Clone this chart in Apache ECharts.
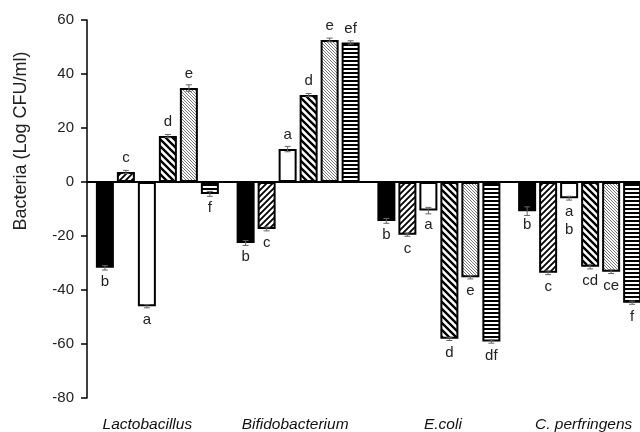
<!DOCTYPE html>
<html>
<head>
<meta charset="utf-8">
<script src="https://cdn.jsdelivr.net/npm/echarts@6/dist/echarts.min.js"></script>
<style>html,body{margin:0;padding:0;background:#fff}#c{width:640px;height:432px}</style>
</head>
<body>
<div id="c"></div>
<script>
var categories = ['Lactobacillus', 'Bifidobacterium', 'E.coli', 'C. perfringens'];
var yTicks = [-80, -60, -40, -20, 0, 20, 40, 60];
var s1 = [-31.8, -22.6, -14.4, -10.8];
var s2 = [3.7, -17.4, -19.5, -33.6];
var s3 = [-46.0, 12.2, -10.6, -6.0];
var s4 = [17.0, 32.2, -58.1, -31.4];
var s5 = [34.8, 52.6, -35.3, -33.2];
var s6 = [-4.4, 51.7, -59.1, -44.7];
var e1 = [0.8, 0.9, 0.9, 1.6];
var e2 = [0.6, 0.7, 0.6, 0.7];
var e3 = [0.6, 1.0, 1.2, 0.7];
var e4 = [0.6, 0.6, 0.6, 0.8];
var e5 = [1.2, 0.7, 0.6, 0.7];
var e6 = [0.9, 0.6, 0.6, 0.6];
var l1 = ['b', 'b', 'b', 'b'];
var l2 = ['c', 'c', 'c', 'c'];
var l3 = ['a', 'a', 'a', 'a\nb'];
var l4 = ['d', 'd', 'd', 'cd'];
var l5 = ['e', 'e', 'e', 'ce'];
var l6 = ['f', 'ef', 'df', 'f'];

function makePattern(w, h, draw) {
  var c = document.createElement('canvas');
  c.width = w; c.height = h;
  var ctx = c.getContext('2d');
  ctx.fillStyle = '#fff';
  ctx.fillRect(0, 0, w, h);
  draw(ctx, w, h);
  return { image: c, repeat: 'repeat' };
}
function fwd(lw, col) {
  return function (ctx, w, h) {
    ctx.strokeStyle = col; ctx.lineWidth = lw;
    ctx.beginPath();
    ctx.moveTo(-1, h + 1); ctx.lineTo(w + 1, -1);
    ctx.moveTo(-1 - w, h + 1); ctx.lineTo(1, -1);
    ctx.moveTo(w - 1, h + 1); ctx.lineTo(2 * w + 1, -1);
    ctx.stroke();
  };
}
function back(lw, col) {
  return function (ctx, w, h) {
    ctx.strokeStyle = col; ctx.lineWidth = lw;
    ctx.beginPath();
    ctx.moveTo(-1, -1); ctx.lineTo(w + 1, h + 1);
    ctx.moveTo(-1 - w, -1); ctx.lineTo(1, h + 1);
    ctx.moveTo(w - 1, -1); ctx.lineTo(2 * w + 1, h + 1);
    ctx.stroke();
  };
}
var fills = [
  '#000',
  makePattern(6, 6, fwd(1.8, '#000')),
  '#fff',
  makePattern(7, 7, back(2.3, '#000')),
  makePattern(3, 3, back(0.8, '#555')),
  makePattern(4, 4, function (ctx, w, h) { ctx.fillStyle = '#000'; ctx.fillRect(0, 0, w, 2); })
];

var values = [s1, s2, s3, s4, s5, s6];
var errs = [e1, e2, e3, e4, e5, e6];
var letters = [l1, l2, l3, l4, l5, l6];
var BW = 18, GAP = 3;
var FONT = 'Liberation Sans, Arial, sans-serif';

var series = [];
values.forEach(function (vals, si) {
  series.push({
    type: 'bar',
    barWidth: BW,
    barGap: (GAP / BW * 100) + '%',
    silent: true,
    itemStyle: { color: fills[si], borderColor: '#000', borderWidth: 2 },
    data: vals.map(function (v, ci) {
      return {
        value: v,
        label: {
          show: true,
          position: v < 0 ? 'bottom' : 'top',
          distance: 5,
          formatter: letters[si][ci],
          color: '#222',
          fontFamily: FONT,
          fontSize: 15,
          lineHeight: 18
        }
      };
    }),
    markLine: si === 0 ? {
      silent: true, symbol: 'none', label: { show: false },
      lineStyle: { color: '#000', width: 2, type: 'solid' },
      data: [{ yAxis: 0 }]
    } : undefined,
    z: 2
  });
});

var errData = [];
values.forEach(function (vals, si) {
  vals.forEach(function (v, ci) { errData.push([ci, v, errs[si][ci], si]); });
});
series.push({
  type: 'custom',
  silent: true,
  z: 5,
  data: errData,
  renderItem: function (params, api) {
    var ci = api.value(0), v = api.value(1), e = api.value(2), si = api.value(3);
    var off = (si - 2.5) * (BW + GAP);
    var p1 = api.coord([ci, v + e]);
    var p2 = api.coord([ci, v - e]);
    var x = p1[0] + off;
    var style = { stroke: '#666', lineWidth: 1 };
    return {
      type: 'group',
      children: [
        { type: 'line', shape: { x1: x, y1: p1[1], x2: x, y2: p2[1] }, style: style },
        { type: 'line', shape: { x1: x - 3, y1: p1[1], x2: x + 3, y2: p1[1] }, style: style },
        { type: 'line', shape: { x1: x - 3, y1: p2[1], x2: x + 3, y2: p2[1] }, style: style }
      ]
    };
  }
});

var labelShift = { 'Lactobacillus': [0, 20, 0, 0], 'Bifidobacterium': [0, 6, 0, 0], 'E.coli': [0, 0, 0, 8], 'C. perfringens': [0, 0, 0, 8] };
var rich = {};
categories.forEach(function (c, i) {
  rich['r' + i] = {
    padding: labelShift[c], color: '#111', fontStyle: 'italic', fontSize: 15.5, fontFamily: FONT
  };
});

var chart = echarts.init(document.getElementById('c'), null, { renderer: 'canvas' });
chart.setOption({
  animation: false,
  backgroundColor: '#fff',
  grid: { left: 87, width: 563, top: 20, bottom: 34, containLabel: false, outerBoundsMode: 'none' },
  xAxis: {
    type: 'category',
    data: categories,
    axisLine: { show: false },
    axisTick: { show: false },
    axisLabel: {
      margin: 19, interval: 0,
      formatter: function (val, idx) { return '{r' + idx + '|' + val + '}'; },
      rich: rich
    },
    splitLine: { show: false }
  },
  yAxis: {
    type: 'value',
    min: yTicks[0], max: yTicks[yTicks.length - 1], interval: 20,
    axisLine: { show: true, lineStyle: { color: '#000', width: 1.5 } },
    axisTick: { show: true, length: 6, lineStyle: { color: '#000', width: 1.5 } },
    axisLabel: { color: '#222', fontSize: 15, margin: 13, fontFamily: FONT },
    splitLine: { show: false }
  },
  graphic: [{
    type: 'text',
    x: 21, y: 141,
    rotation: Math.PI / 2,
    style: {
      text: 'Bacteria (Log CFU/ml)',
      fill: '#222',
      font: '18px Liberation Sans, Arial, sans-serif',
      align: 'center',
      verticalAlign: 'middle'
    }
  }],
  series: series
});
</script>
</body>
</html>
